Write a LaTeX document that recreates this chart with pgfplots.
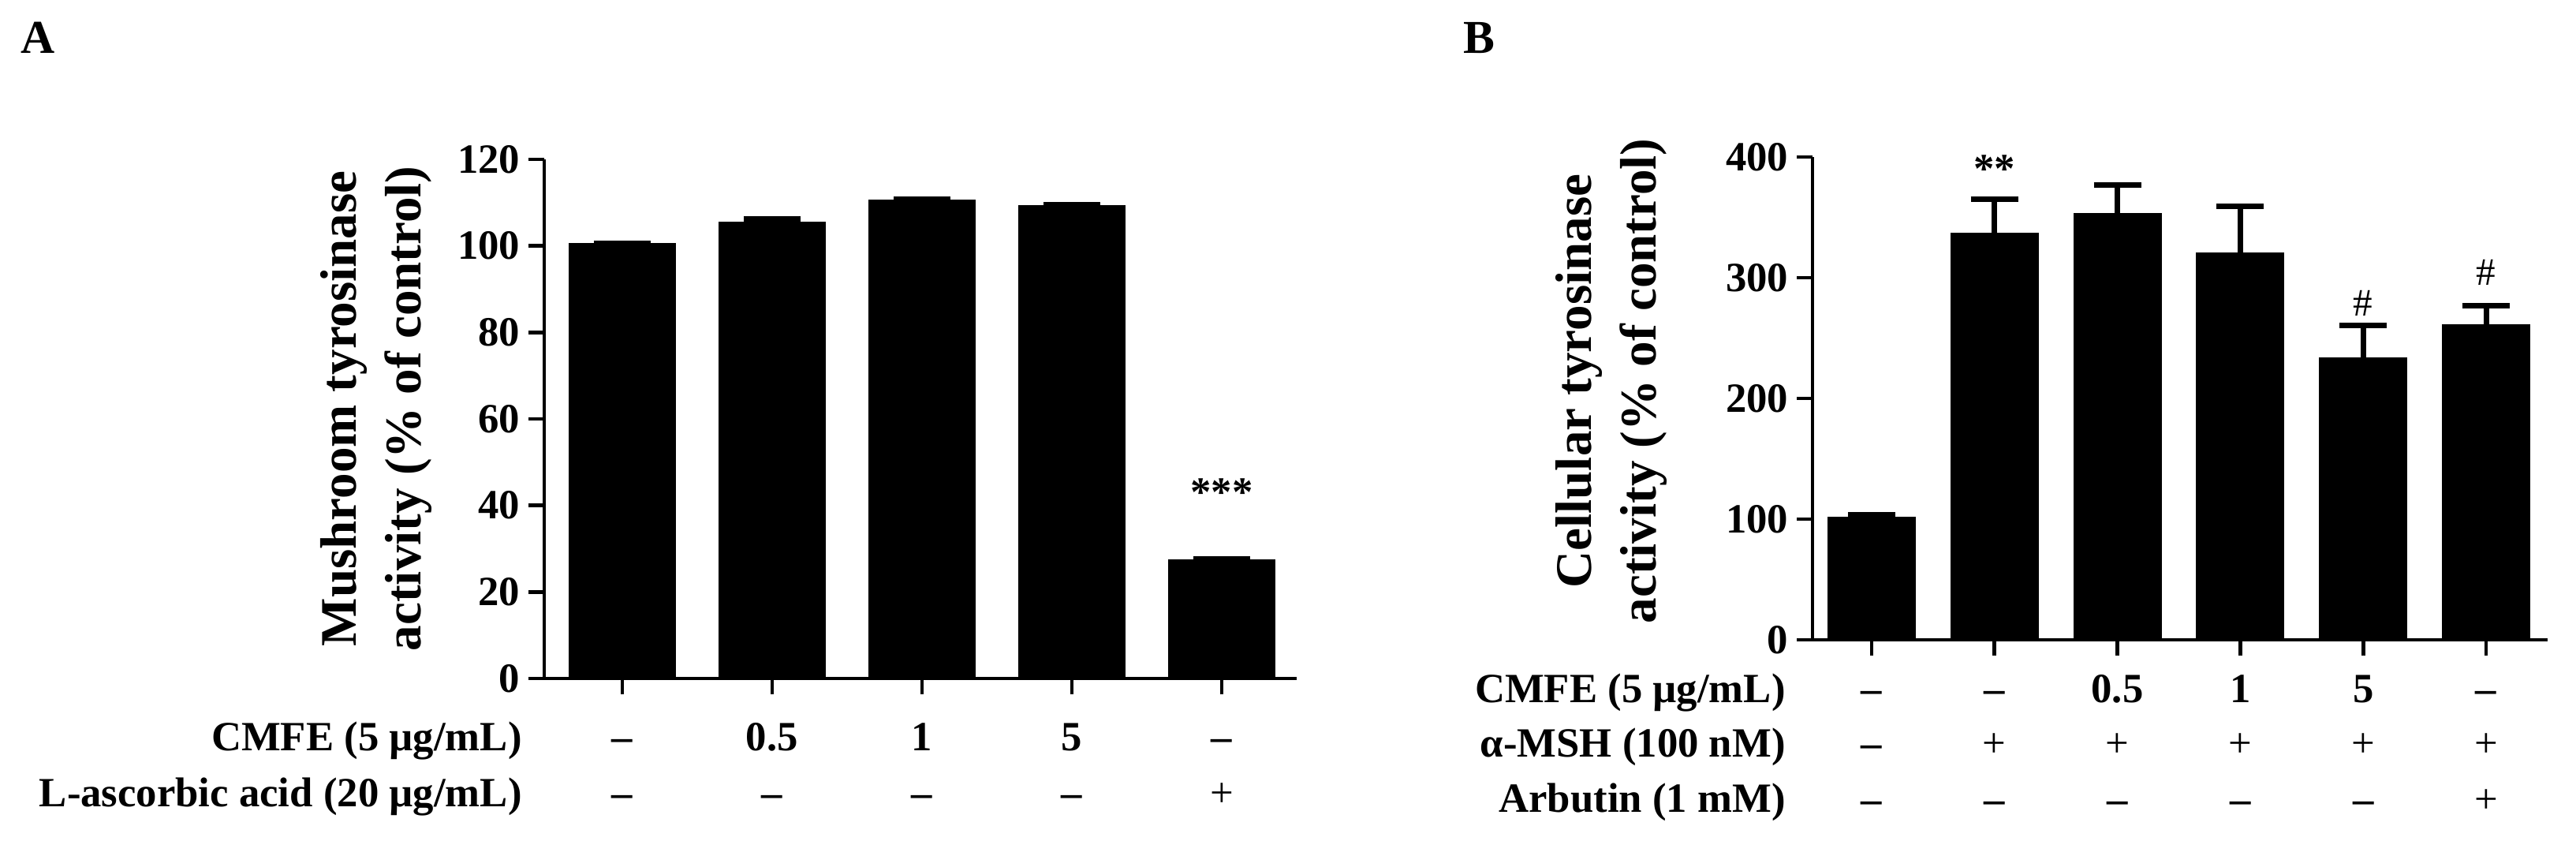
\documentclass[border=0pt]{standalone}
\usepackage{pgfplots}
\pgfplotsset{compat=1.18}
\usepackage{pgfplotstable}
\usepackage{fontspec}
\setmainfont{Liberation Serif}
\newcommand{\tkfont}{\fontsize{15}{18}\selectfont\bfseries}
\newcommand{\ylfont}{\fontsize{18.5}{23.3}\selectfont\bfseries}

\pgfplotstableread{
x y e
0 100.5 0.0
1 105.5 0.7
2 110.5 0.2
3 109.3 0.2
4 27.5 0.2
}\dataA
\pgfplotstableread{
x y e
0 101.3 2.2
1 337.0 28.0
2 353.3 23.6
3 320.4 38.7
4 233.3 27.0
5 260.9 16.0
}\dataB

\pgfplotsset{
  panel/.style={
    scale only axis,
    ybar, bar width=0.71,
    axis x line*=bottom, axis y line*=left,
    axis line style={-, line width=1.3pt, black},
    every tick/.style={line width=1.3pt, black},
    tick align=outside,
    major tick length=2mm,
    ymin=0,
    /pgf/number format/assume math mode=true,
    yticklabel style={font=\tkfont, inner sep=0pt, xshift=-1mm},
    xticklabels={{},{},{},{},{},{}},
    ylabel style={font=\ylfont, align=center, anchor=center},
    clip=false,
  },
  rowaxis/.style={
    scale only axis,
    axis x line*=bottom, axis y line=none,
    x axis line style={draw=none},
    xtick style={draw=none},
    major tick length=0pt,
    ymin=0, ymax=1, ytick=\empty,
    xticklabel style={font=\tkfont, anchor=base, inner sep=0pt},
  },
}

\begin{document}
\begin{tikzpicture}
\path[use as bounding box] (0,0) rectangle (326.6mm,-106.6mm);

\node[font=\fontsize{17}{20}\selectfont\bfseries] at (4.8mm,-4.8mm) {A};
\node[font=\fontsize{17}{20}\selectfont\bfseries] at (187.5mm,-4.8mm) {B};

% ---------------- Panel A ----------------
\begin{axis}[panel,
  at={(69mm,-86mm)}, anchor=south west,
  width=95.4mm, height=65.8mm,
  xmin=-0.52, xmax=4.5, ymax=120,
  ytick={0,20,...,120},
  xtick={0,...,4},
  ylabel={Mushroom tyrosinase\\activity (\% of control)},
  ylabel style={at={(axis description cs:-0.2235,0.52)}},
]
\addplot[fill=black, draw=black,
  error bars/.cd, y dir=plus, y explicit,
  error bar style={line width=2pt, black},
  error mark options={rotate=90, mark size=3.6mm, line width=2pt, black}]
  table[x=x, y=y, y error=e] {\dataA};
\node[font=\tkfont] at (axis cs:4,43) {***};
\end{axis}
\begin{axis}[rowaxis, at={(69mm,-86mm)}, anchor=south west,
  width=95.4mm, height=65.8mm, xmin=-0.52, xmax=4.5,
  xtick={0,...,4}, xticklabel shift=9.2mm,
  xticklabels={--,0.5,1,5,--}]
\end{axis}
\begin{axis}[rowaxis, at={(69mm,-86mm)}, anchor=south west,
  width=95.4mm, height=65.8mm, xmin=-0.52, xmax=4.5,
  xtick={0,...,4}, xticklabel shift=16.3mm,
  xticklabels={--,--,--,--,{\mdseries+}}]
\end{axis}

\node[anchor=base east, font=\tkfont] at (67.4mm,-95.2mm) {CMFE (5 µg/mL)};
\node[anchor=base east, font=\tkfont] at (67.4mm,-102.3mm) {L-ascorbic acid (20 µg/mL)};

% ---------------- Panel B ----------------
\begin{axis}[panel,
  at={(229.8mm,-81.1mm)}, anchor=south west,
  width=93.2mm, height=61.2mm,
  xmin=-0.48, xmax=5.5, ymax=400,
  ytick={0,100,...,400},
  xtick={0,...,5},
  ylabel={Cellular tyrosinase\\activity (\% of control)},
  ylabel style={at={(axis description cs:-0.2736,0.536)}},
]
\addplot[fill=black, draw=black,
  error bars/.cd, y dir=plus, y explicit,
  error bar style={line width=2pt, black},
  error mark options={rotate=90, mark size=3.0mm, line width=2pt, black}]
  table[x=x, y=y, y error=e] {\dataB};
\node[font=\tkfont] at (axis cs:1,390) {**};
\node[font=\fontsize{14}{16}\selectfont] at (axis cs:4,279) {\#};
\node[font=\fontsize{14}{16}\selectfont] at (axis cs:5,304) {\#};
\end{axis}
\begin{axis}[rowaxis, at={(229.8mm,-81.1mm)}, anchor=south west,
  width=93.2mm, height=61.2mm, xmin=-0.48, xmax=5.5,
  xtick={0,...,5}, xticklabel shift=8.0mm,
  xticklabels={--,--,0.5,1,5,--}]
\end{axis}
\begin{axis}[rowaxis, at={(229.8mm,-81.1mm)}, anchor=south west,
  width=93.2mm, height=61.2mm, xmin=-0.48, xmax=5.5,
  xtick={0,...,5}, xticklabel shift=14.9mm,
  xticklabels={--,{\mdseries+},{\mdseries+},{\mdseries+},{\mdseries+},{\mdseries+}}]
\end{axis}
\begin{axis}[rowaxis, at={(229.8mm,-81.1mm)}, anchor=south west,
  width=93.2mm, height=61.2mm, xmin=-0.48, xmax=5.5,
  xtick={0,...,5}, xticklabel shift=21.9mm,
  xticklabels={--,--,--,--,--,{\mdseries+}}]
\end{axis}

\node[anchor=base east, font=\tkfont] at (227.6mm,-89.1mm) {CMFE (5 µg/mL)};
\node[anchor=base east, font=\tkfont] at (227.6mm,-96.0mm) {α-MSH (100 nM)};
\node[anchor=base east, font=\tkfont] at (227.6mm,-103.0mm) {Arbutin (1 mM)};
\end{tikzpicture}
\end{document}
